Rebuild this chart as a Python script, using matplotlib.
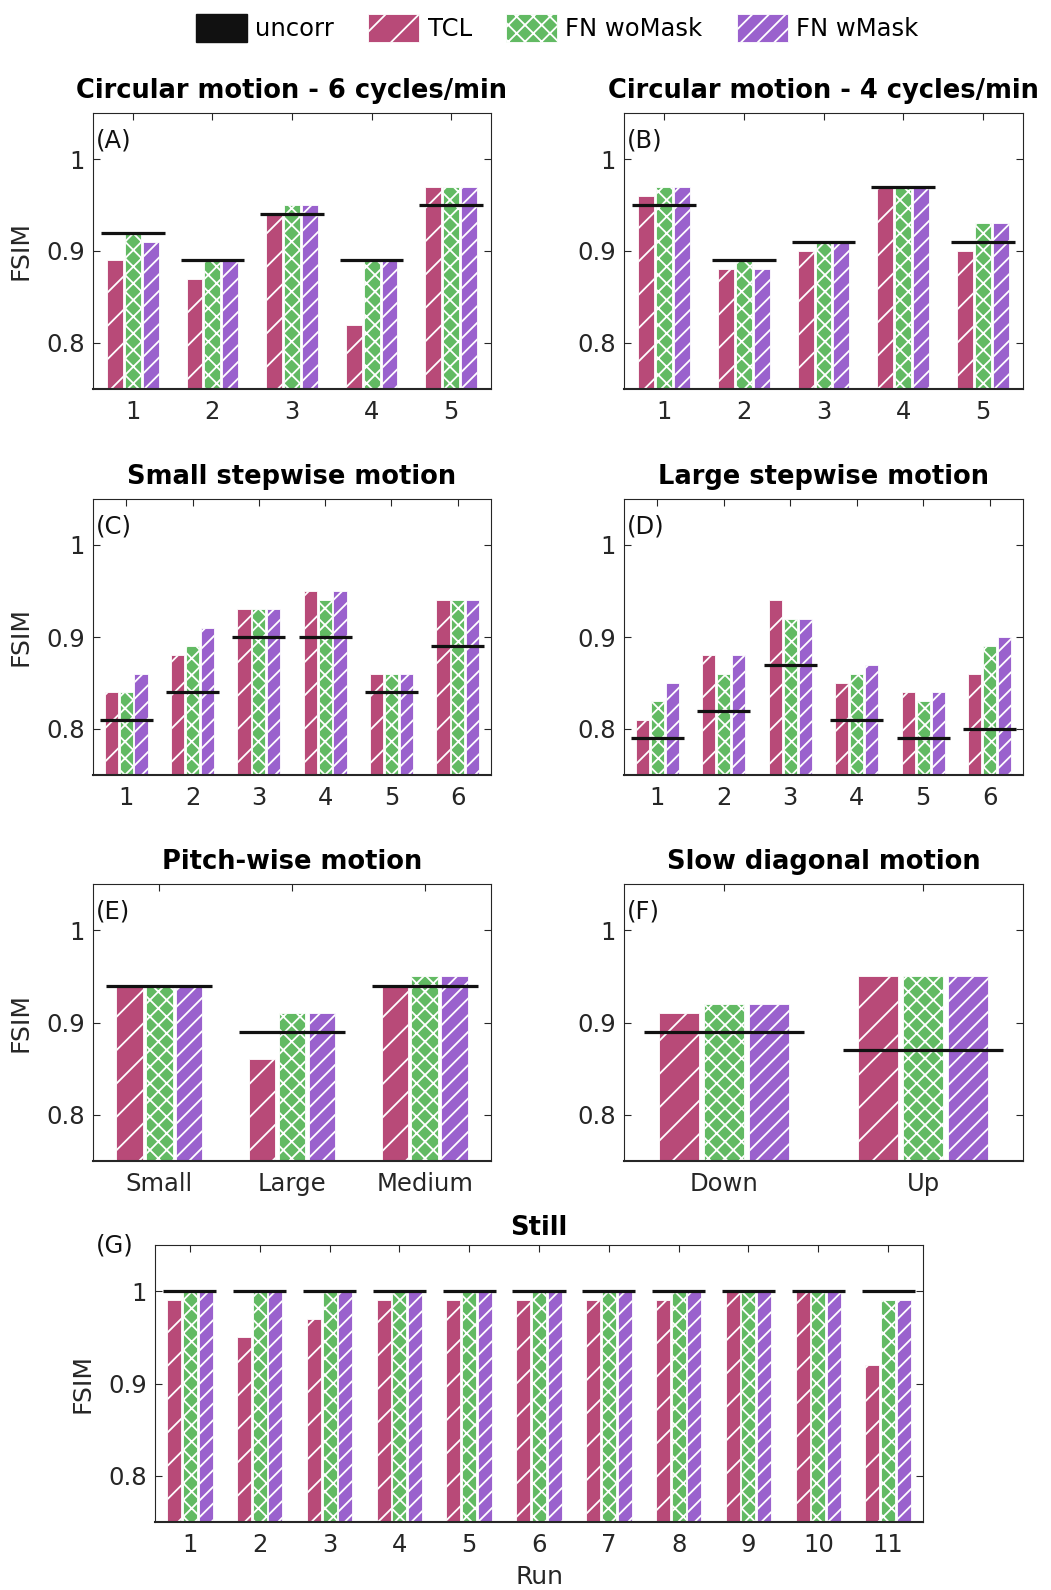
import numpy as np
import matplotlib
matplotlib.use('Agg')
import matplotlib.pyplot as plt
import matplotlib.patches as mpatches

plt.rcParams['font.family'] = ['DejaVu Sans']
plt.rcParams['hatch.linewidth'] = 1.3

# ---------------- data ----------------
series_names = ['uncorr', 'TCL', 'FN woMask', 'FN wMask']

a_title = 'Circular motion - 6 cycles/min'
a_cats = ['1', '2', '3', '4', '5']
a_uncorr = [0.92, 0.89, 0.94, 0.89, 0.95]
a_tcl = [0.89, 0.87, 0.94, 0.82, 0.97]
a_womask = [0.92, 0.89, 0.95, 0.89, 0.97]
a_wmask = [0.91, 0.89, 0.95, 0.89, 0.97]

b_title = 'Circular motion - 4 cycles/min'
b_cats = ['1', '2', '3', '4', '5']
b_uncorr = [0.95, 0.89, 0.91, 0.97, 0.91]
b_tcl = [0.96, 0.88, 0.90, 0.97, 0.90]
b_womask = [0.97, 0.89, 0.91, 0.97, 0.93]
b_wmask = [0.97, 0.88, 0.91, 0.97, 0.93]

c_title = 'Small stepwise motion'
c_cats = ['1', '2', '3', '4', '5', '6']
c_uncorr = [0.81, 0.84, 0.90, 0.90, 0.84, 0.89]
c_tcl = [0.84, 0.88, 0.93, 0.95, 0.86, 0.94]
c_womask = [0.84, 0.89, 0.93, 0.94, 0.86, 0.94]
c_wmask = [0.86, 0.91, 0.93, 0.95, 0.86, 0.94]

d_title = 'Large stepwise motion'
d_cats = ['1', '2', '3', '4', '5', '6']
d_uncorr = [0.79, 0.82, 0.87, 0.81, 0.79, 0.80]
d_tcl = [0.81, 0.88, 0.94, 0.85, 0.84, 0.86]
d_womask = [0.83, 0.86, 0.92, 0.86, 0.83, 0.89]
d_wmask = [0.85, 0.88, 0.92, 0.87, 0.84, 0.90]

e_title = 'Pitch-wise motion'
e_cats = ['Small', 'Large', 'Medium']
e_uncorr = [0.94, 0.89, 0.94]
e_tcl = [0.94, 0.86, 0.94]
e_womask = [0.94, 0.91, 0.95]
e_wmask = [0.94, 0.91, 0.95]

f_title = 'Slow diagonal motion'
f_cats = ['Down', 'Up']
f_uncorr = [0.89, 0.87]
f_tcl = [0.91, 0.95]
f_womask = [0.92, 0.95]
f_wmask = [0.92, 0.95]

g_title = 'Still'
g_cats = ['1', '2', '3', '4', '5', '6', '7', '8', '9', '10', '11']
g_uncorr = [1.00, 1.00, 1.00, 1.00, 1.00, 1.00, 1.00, 1.00, 1.00, 1.00, 1.00]
g_tcl = [0.99, 0.95, 0.97, 0.99, 0.99, 0.99, 0.99, 0.99, 1.00, 1.00, 0.92]
g_womask = [1.00, 1.00, 1.00, 1.00, 1.00, 1.00, 1.00, 1.00, 1.00, 1.00, 0.99]
g_wmask = [1.00, 1.00, 1.00, 1.00, 1.00, 1.00, 1.00, 1.00, 1.00, 1.00, 0.99]

y_ticks = [0.8, 0.9, 1.0]
y_ticklabels = ['0.8', '0.9', '1']

# ---------------- style ----------------
W, H = 1051, 1590
col_tcl = '#B84A78'
col_wo = '#62BA63'
col_w = '#9A61CD'
bar_styles = [(col_tcl, '/'), (col_wo, 'xx'), (col_w, '//')]
gray = (0.15, 0.15, 0.15)

fig = plt.figure(figsize=(W / 100, H / 100), dpi=100)


def rect(l, t, r, b):
    return [l / W, 1 - b / H, (r - l) / W, (b - t) / H]


def draw_panel(ax, title, cats, uncorr, tcl, womask, wmask, label=None,
               title_pad=10.5, line_half=0.4):
    x = np.arange(1, len(cats) + 1)
    offsets = [-0.225, 0.0, 0.225]
    for vals, off, (fc, hatch) in zip([tcl, womask, wmask], offsets, bar_styles):
        ax.bar(x + off, vals, width=0.2, color=fc, edgecolor='white',
               linewidth=0.6, hatch=hatch, zorder=2)
    ax.hlines(uncorr, x - line_half, x + line_half, color='#111111',
              linewidth=2.3, zorder=3)
    ax.set_xlim(0.5, len(cats) + 0.5)
    ax.set_ylim(0.75, 1.05)
    ax.set_xticks(x)
    ax.set_xticklabels(cats)
    ax.set_yticks(y_ticks)
    ax.set_yticklabels(y_ticklabels)
    ax.tick_params(direction='in', length=5, width=0.8, top=True, right=True,
                   labelsize=17.5, labelcolor=gray, color=gray)
    ax.tick_params(axis='x', pad=8)
    ax.tick_params(axis='y', pad=6)
    for s in ax.spines.values():
        s.set_color(gray)
        s.set_linewidth(0.8)
    ax.spines['bottom'].set_linewidth(1.5)
    ax.set_title(title, fontsize=18.5, fontweight='bold', pad=title_pad)
    ax.set_ylabel('FSIM', fontsize=18, color=gray, labelpad=10)
    if label is not None:
        ax.text(0.008, 0.90, label, transform=ax.transAxes, fontsize=17.5,
                va='center', ha='left', color='#111111')


axA = fig.add_axes(rect(93, 113, 491, 389))
axB = fig.add_axes(rect(624, 113, 1023, 389))
axC = fig.add_axes(rect(93, 499, 491, 775))
axD = fig.add_axes(rect(624, 499, 1023, 775))
axE = fig.add_axes(rect(93, 884, 491, 1161))
axF = fig.add_axes(rect(624, 884, 1023, 1161))
axG = fig.add_axes(rect(155, 1245, 923, 1522))

draw_panel(axA, a_title, a_cats, a_uncorr, a_tcl, a_womask, a_wmask, '(A)')
draw_panel(axB, b_title, b_cats, b_uncorr, b_tcl, b_womask, b_wmask, '(B)')
draw_panel(axC, c_title, c_cats, c_uncorr, c_tcl, c_womask, c_wmask, '(C)')
draw_panel(axD, d_title, d_cats, d_uncorr, d_tcl, d_womask, d_wmask, '(D)')
draw_panel(axE, e_title, e_cats, e_uncorr, e_tcl, e_womask, e_wmask, '(E)')
draw_panel(axF, f_title, f_cats, f_uncorr, f_tcl, f_womask, f_wmask, '(F)')
draw_panel(axG, g_title, g_cats, g_uncorr, g_tcl, g_womask, g_wmask, None,
           title_pad=7, line_half=0.38)
axG.set_xlabel('Run', fontsize=18, color=gray, labelpad=6)
fig.text(96 / W, 1 - 1245 / H, '(G)', fontsize=17.5, ha='left', va='center',
         color='#111111')

for ax in (axB, axD, axF):
    ax.set_ylabel('')

# legend
handles = [mpatches.Patch(facecolor='#111111', edgecolor='#111111')]
for fc, hatch in bar_styles:
    handles.append(mpatches.Patch(facecolor=fc, edgecolor='white',
                                  linewidth=0.6, hatch=hatch))
fig.legend(handles, series_names, loc='center', ncol=4,
           bbox_to_anchor=(557 / W, 1 - 28 / H), frameon=False,
           fontsize=17.5, handlelength=2.1, handleheight=1.4,
           columnspacing=1.4, handletextpad=0.35)

fig.savefig('out.png', dpi=100)
